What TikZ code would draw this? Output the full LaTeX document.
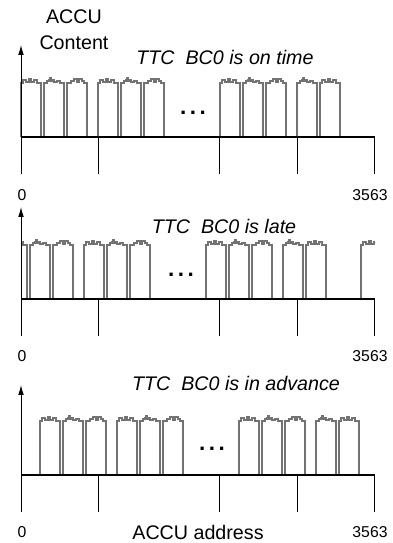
\documentclass[tikz,border=0pt]{standalone}
\usepackage{fontspec}
\setmainfont{Liberation Sans}
\usetikzlibrary{arrows.meta}
\newcommand{\topA}{-- ++(2,0) -- ++(0,-3) -- ++(3,0) -- ++(0,2) -- ++(3,0) -- ++(0,-3) -- ++(2,0) -- ++(0,3) -- ++(3,0) -- ++(0,-2) -- ++(3,0) -- ++(0,3) -- ++(4,0)}
\newcommand{\topB}{-- ++(3,0) -- ++(0,-2) -- ++(2,0) -- ++(0,-1) -- ++(1,0) -- ++(0,-2) -- ++(1,0) -- ++(0,3) -- ++(2,0) -- ++(0,-1) -- ++(1,0) -- ++(0,2) -- ++(3,0) -- ++(0,-1) -- ++(3,0) -- ++(0,2) -- ++(4,0)}
\newcommand{\topC}{-- ++(4,0) -- ++(0,-2) -- ++(3,0) -- ++(0,-2) -- ++(3,0) -- ++(0,3) -- ++(2,0) -- ++(0,-3) -- ++(3,0) -- ++(0,2) -- ++(2,0) -- ++(0,2) -- ++(3,0)}
\newcommand{\accubar}[3]{\draw[barline] (#1,#2) -- ++(0,-54) #3 -- ++(0,54);}
\tikzset{
  barline/.style={draw=black!55,line width=0.8pt},
  accuaxis/.style={line width=1.4pt},
  tickline/.style={line width=0.7pt},
  numlabel/.style={inner sep=0,font=\fontsize{11.2}{13}\selectfont},
  bigtext/.style={inner sep=0,font=\fontsize{14}{17}\selectfont},
  titletext/.style={inner sep=0,font=\fontsize{14}{17}\selectfont\itshape},
  dotstext/.style={inner sep=0,font=\fontsize{16}{18}\selectfont\bfseries}
}
\begin{document}
\begin{tikzpicture}[x=0.25mm,y=-0.25mm]
      \useasboundingbox (0,0) rectangle (392,543);
      \node[bigtext,align=center] (content) at (74,30) {ACCU\\[1.5pt]Content};
      % on time
      \foreach \g in {21,98,220} {
        \accubar{\g}{137}{\topA}
        \accubar{\g+23}{137}{\topB}
        \accubar{\g+46}{137}{\topC}
      }
      \accubar{297}{137}{\topB}
      \accubar{320}{137}{\topA}
      \draw[accuaxis] (21,137) -- (375,137);
      \draw[tickline,-{Latex[length=7pt,width=4pt]}] (21,174) -- (21,45);
      \foreach \t in {98,219,297,374} \draw[tickline] (\t,137) -- (\t,174);
      \node[titletext] (ontime) at (225,57) {TTC~~BC0 is on time};
      \node[dotstext] (dotsA) at (193,113) {.\kern2.5pt.\kern2.5pt.};
      \node[numlabel] (zeroA) at (22,195) {0};
      \node[numlabel] (endA) at (370,195) {3563};
      % late
      \begin{scope}
        \clip (21,200) rectangle (375,300);
        \foreach \g in {7,84,206,361} {
          \accubar{\g}{299}{\topA}
          \accubar{\g+23}{299}{\topB}
          \accubar{\g+46}{299}{\topC}
        }
        \accubar{283}{299}{\topB}
        \accubar{306}{299}{\topA}
      \end{scope}
      \draw[accuaxis] (21,299) -- (375,299);
      \draw[tickline,-{Latex[length=7pt,width=4pt]}] (21,336) -- (21,207);
      \foreach \t in {98,219,297,374} \draw[tickline] (\t,299) -- (\t,336);
      \node[titletext] (late) at (224,226) {TTC~~BC0 is late};
      \node[dotstext] (dotsB) at (181,275) {.\kern2.5pt.\kern2.5pt.};
      \node[numlabel] (zeroB) at (22,356) {0};
      \node[numlabel] (endB) at (370,356) {3563};
      % in advance
      \foreach \g in {40,117,239} {
        \accubar{\g}{475}{\topA}
        \accubar{\g+23}{475}{\topB}
        \accubar{\g+46}{475}{\topC}
      }
      \accubar{316}{475}{\topB}
      \accubar{339}{475}{\topA}
      \draw[accuaxis] (21,475) -- (375,475);
      \draw[tickline,-{Latex[length=7pt,width=4pt]}] (21,512) -- (21,385);
      \foreach \t in {98,219,297,374} \draw[tickline] (\t,475) -- (\t,512);
      \node[titletext] (advance) at (236,383) {TTC~~BC0 is in advance};
      \node[dotstext] (dotsC) at (212,449) {.\kern2.5pt.\kern2.5pt.};
      \node[numlabel] (zeroC) at (22,532) {0};
      \node[bigtext] (address) at (198,532) {ACCU address};
      \node[numlabel] (endC) at (370,532) {3563};
\end{tikzpicture}
\end{document}
